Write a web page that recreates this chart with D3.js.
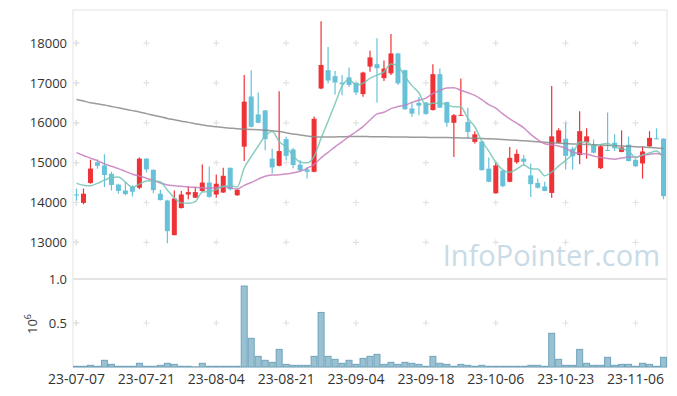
<!DOCTYPE html>
<html>
<head>
<meta charset="utf-8">
<script src="https://cdn.jsdelivr.net/npm/d3@7"></script>
<style>
  body { margin: 0; background: #fff; }
  svg text { font-family: "Open Sans", sans-serif; }
</style>
</head>
<body>
<div id="chart"></div>
<script>
// trading days (yy-mm-dd)
const dates = [
  "23-07-07","23-07-10","23-07-11","23-07-12","23-07-13","23-07-14","23-07-17","23-07-18","23-07-19","23-07-20",
  "23-07-21","23-07-24","23-07-25","23-07-26","23-07-27","23-07-28","23-07-31","23-08-01","23-08-02","23-08-03",
  "23-08-04","23-08-07","23-08-08","23-08-09","23-08-10","23-08-11","23-08-14","23-08-16","23-08-17","23-08-18",
  "23-08-21","23-08-22","23-08-23","23-08-24","23-08-25","23-08-28","23-08-29","23-08-30","23-08-31","23-09-01",
  "23-09-04","23-09-05","23-09-06","23-09-07","23-09-08","23-09-11","23-09-12","23-09-13","23-09-14","23-09-15",
  "23-09-18","23-09-19","23-09-20","23-09-21","23-09-22","23-09-25","23-09-26","23-09-27","23-10-04","23-10-05",
  "23-10-06","23-10-10","23-10-11","23-10-12","23-10-13","23-10-16","23-10-17","23-10-18","23-10-19","23-10-20",
  "23-10-23","23-10-24","23-10-25","23-10-26","23-10-27","23-10-30","23-10-31","23-11-01","23-11-02","23-11-03",
  "23-11-06","23-11-07","23-11-08","23-11-09","23-11-10"
];

const opens = [
  14200,13990,14490,15010,14930,14720,14450,14300,14400,14370,
  15100,14820,14220,14050,13180,13860,14200,14120,14290,14500,
  14200,14250,14870,14180,15400,16660,16210,16310,15100,14920,
  15590,15330,14950,14830,14770,16860,17320,17170,17010,17140,
  17000,16720,17410,17470,17120,17240,17740,17320,16360,16500,
  16510,16320,17220,16520,16000,16190,16020,15520,15530,14850,
  14230,14800,14520,15010,15100,14680,14490,14400,14240,15500,
  15600,15350,15190,15520,15460,14860,15320,15500,15270,15450,
  15070,14980,15410,15610,15600
];
const highs = [
  14350,14350,15070,15080,15210,14770,14470,14510,14430,15130,
  15110,14830,14320,14070,14300,14290,14410,14390,14950,14900,
  14700,14870,14880,14330,17200,17320,16760,16320,15350,16790,
  15650,15370,15060,14890,16160,18550,17900,17300,17200,17390,
  17010,17280,17810,18120,17560,18230,17760,17330,16510,16650,
  16520,17470,17360,16530,16220,17110,16380,15790,15540,15130,
  14990,14820,15390,15330,15190,14980,14600,14520,16920,15860,
  16000,15400,16290,15860,15580,15440,16260,15710,15810,15650,
  15100,15410,15790,15860,15610
];
const lows = [
  14050,13955,14470,14850,14390,14300,14220,14180,14150,14330,
  14750,14230,14050,12980,13180,13850,14080,14110,14260,14120,
  14120,14240,14300,14170,15040,15890,15990,15310,14730,14910,
  15060,14860,14770,14600,14760,16840,16990,16710,16690,16900,
  16700,16650,17280,16510,17050,17200,16950,16330,16150,16190,
  16200,16310,16370,15900,15140,16180,15610,15480,14800,14510,
  14220,14380,14510,14970,14940,14140,14350,14280,14120,15490,
  14830,14830,14960,15100,15230,14840,15290,15290,15260,15030,
  14890,14600,15390,15590,14080
];
const closes = [
  14180,14220,14850,14920,14690,14440,14290,14210,14270,15100,
  14830,14310,14060,13280,14100,14200,14260,14260,14500,14140,
  14470,14670,14330,14320,16530,15900,16000,15590,14880,15290,
  15170,14940,14810,14770,16100,17450,17060,17010,16970,16950,
  16760,17260,17640,17370,17360,17740,16990,16340,16230,16430,
  16220,17220,16380,16000,16190,16200,15770,15710,14810,14520,
  14930,14410,15120,15220,15020,14460,14370,14290,15660,15810,
  15170,15160,15790,15660,15250,15410,15300,15360,15380,15040,
  14910,15280,15620,15600,14160
];
const volumes = [
  8000,8000,19000,8000,76000,30000,8000,8000,8000,42000,
  8000,8000,19000,42000,30000,8000,8000,2000,42000,8000,
  8000,8000,8000,8000,920000,326000,121000,76000,53000,200000,
  30000,19000,19000,19000,121000,620000,121000,87000,42000,76000,
  30000,98000,121000,144000,30000,53000,30000,53000,42000,30000,
  8000,121000,42000,30000,8000,30000,19000,8000,19000,8000,
  8000,8000,8000,8000,8000,19000,19000,8000,383000,87000,
  19000,19000,200000,42000,19000,19000,110000,19000,30000,30000,
  8000,42000,30000,8000,110000
];

// moving averages as drawn on the chart
const ma5 = [
  14480,14435,14420,14480,14560,14624,14638,14510,14380,14462,
  14540,14544,14514,14316,14116,13990,13980,14020,14264,14272,
  14326,14408,14422,14386,14864,15150,15416,15668,15780,15532,
  15386,15174,15018,14996,15158,15614,16038,16478,16918,17088,
  16950,16990,17116,17196,17278,17474,17420,17160,16932,16746,
  16442,16488,16496,16450,16402,16398,16108,15900,15540,15290,
  15010,14820,14758,14840,14940,14846,14838,14672,14760,14918,
  15060,15218,15518,15518,15406,15454,15482,15396,15340,15298,
  15120,15194,15246,15290,15114
];
const ma20 = [
  15250,15180,15110,15050,14970,14910,14850,14780,14710,14660,
  14610,14550,14490,14440,14420,14405,14390,14380,14370,14356,
  14370,14393,14367,14337,14429,14502,14587,14656,14687,14696,
  14713,14745,14782,14857,14957,15119,15259,15397,15520,15661,
  15775,15905,16070,16223,16264,16356,16406,16443,16511,16568,
  16620,16734,16813,16874,16879,16816,16752,16687,16579,16457,
  16366,16223,16097,15990,15873,15709,15578,15475,15447,15416,
  15363,15260,15231,15214,15167,15127,15104,15086,15115,15141,
  15140,15183,15208,15227,15184
];
const ma120 = [
  16585,16545,16505,16475,16445,16410,16375,16340,16305,16270,
  16230,16190,16150,16110,16075,16040,16010,15975,15945,15920,
  15900,15880,15865,15850,15840,15832,15825,15815,15800,15780,
  15750,15720,15695,15670,15650,15640,15640,15645,15650,15655,
  15655,15655,15652,15650,15648,15645,15642,15640,15638,15636,
  15634,15632,15630,15628,15625,15620,15615,15610,15605,15598,
  15590,15580,15570,15560,15548,15535,15522,15510,15498,15488,
  15478,15470,15462,15455,15448,15440,15432,15424,15416,15408,
  15400,15390,15380,15370,15355
];

const priceTicks = [13000, 14000, 15000, 16000, 17000, 18000];
const volTicks = [500000, 1000000];
const volTickLabels = ["0.5", "1.0"];
const dateTicks = [0, 10, 20, 30, 40, 50, 60, 70, 80];

class CandleChart {
    constructor() {
        this.width = 677;
        this.height = 396;
        this.left = 73;
        this.right = 667;
        this.top = 10;
        this.priceBottom = 277;
        this.volTop = 279;
        this.volBottom = 367;

        this.rows = dates.map((d, i) => ({
            i: i, date: d, open: opens[i], high: highs[i], low: lows[i],
            close: closes[i], volume: volumes[i]
        }));

        this.scaleX = d3.scaleBand()
            .domain(d3.range(dates.length))
            .range([this.left, this.right])
            .padding(0);
        this.scaleY = d3.scaleLinear()
            .domain([12130, 18830])
            .range([this.priceBottom, this.top]);
        this.scaleV = d3.scaleLinear()
            .domain([0, 1000000])
            .range([this.volBottom, this.volTop]);
    }

    cx(i) {
        return this.scaleX(i) + this.scaleX.bandwidth() / 2;
    }

    draw() {
        this.svg = d3.select("#chart").append("svg")
            .attr("width", this.width).attr("height", this.height);

        this.drawFrame();
        this.drawWatermark();
        this.drawVolume();
        this.drawCandles();
        this.drawLines();
        this.drawAxes();
    }

    drawFrame() {
        let svg = this.svg;
        svg.append("rect")
            .attr("x", this.left).attr("y", this.top)
            .attr("width", this.right - this.left)
            .attr("height", this.volBottom - this.top)
            .attr("fill", "#fff")
            .attr("stroke", "#e4e4e4");

        // little crosses at grid intersections
        let marks = [];
        dateTicks.forEach(t => {
            priceTicks.forEach(p => marks.push([this.cx(t), this.scaleY(p)]));
            marks.push([this.cx(t), this.scaleV(500000)]);
        });
        priceTicks.forEach(p => marks.push([this.left + 3, this.scaleY(p)]));
        marks.push([this.left + 3, this.scaleV(500000)]);

        svg.append("g").selectAll("path").data(marks).join("path")
            .attr("d", d => `M${d[0] - 3},${d[1]}H${d[0] + 3}M${d[0]},${d[1] - 3}V${d[1] + 3}`)
            .attr("stroke", "#e2e2e2")
            .attr("stroke-width", 1.2);

        svg.append("line")
            .attr("x1", this.left).attr("x2", this.right)
            .attr("y1", this.scaleV(1000000)).attr("y2", this.scaleV(1000000))
            .attr("stroke", "#e4e4e4").attr("stroke-width", 2);
    }

    drawWatermark() {
        this.svg.append("text")
            .attr("x", 660).attr("y", 266)
            .attr("text-anchor", "end")
            .attr("font-size", 29)
            .attr("fill", "#c3d8e4")
            .attr("opacity", 0.9)
            .text("InfoPointer.com");
    }

    drawVolume() {
        let bw = this.scaleX.bandwidth();
        this.svg.append("g").selectAll("rect").data(this.rows).join("rect")
            .attr("x", d => this.scaleX(d.i) + 0.5)
            .attr("width", bw - 1)
            .attr("y", d => this.scaleV(d.volume))
            .attr("height", d => this.volBottom - this.scaleV(d.volume))
            .attr("fill", "#9ac1d2")
            .attr("stroke", "#70a3bb")
            .attr("stroke-width", 1);
    }

    drawCandles() {
        let bodyW = 5;
        let g = this.svg.append("g");
        let color = d => d.close >= d.open ? "#ee3236" : "#67c2d9";

        g.selectAll("line").data(this.rows).join("line")
            .attr("x1", d => this.cx(d.i)).attr("x2", d => this.cx(d.i))
            .attr("y1", d => this.scaleY(d.high))
            .attr("y2", d => this.scaleY(d.low))
            .attr("stroke", color)
            .attr("stroke-width", 1.2);

        g.selectAll("rect").data(this.rows).join("rect")
            .attr("x", d => this.cx(d.i) - bodyW / 2)
            .attr("width", bodyW)
            .attr("y", d => this.scaleY(Math.max(d.open, d.close)))
            .attr("height", d => Math.max(1, Math.abs(this.scaleY(d.open) - this.scaleY(d.close))))
            .attr("fill", color);
    }

    drawLines() {
        let series = [
            {values: ma120, color: "#8a8a8a"},
            {values: ma20, color: "#c67cbd"},
            {values: ma5, color: "#74c4b6"}
        ];
        let line = d3.line()
            .x((d, i) => this.cx(i))
            .y(d => this.scaleY(d))
            .curve(d3.curveMonotoneX);

        this.svg.append("g").selectAll("path").data(series).join("path")
            .attr("d", d => line(d.values))
            .attr("fill", "none")
            .attr("stroke", d => d.color)
            .attr("stroke-width", 1.5)
            .attr("opacity", 0.85);
    }

    drawAxes() {
        let svg = this.svg;

        let yAxis = svg.append("g")
            .attr("transform", `translate(${this.left},0)`)
            .call(d3.axisLeft(this.scaleY).tickValues(priceTicks)
                .tickFormat(d3.format("d")).tickSize(0).tickPadding(6));
        let vAxis = svg.append("g")
            .attr("transform", `translate(${this.left},0)`)
            .call(d3.axisLeft(this.scaleV).tickValues(volTicks)
                .tickFormat((d, i) => volTickLabels[i]).tickSize(0).tickPadding(6));
        let xAxis = svg.append("g")
            .attr("transform", `translate(0,${this.volBottom})`)
            .call(d3.axisBottom(this.scaleX).tickValues(dateTicks)
                .tickFormat(i => dates[i]).tickSize(0).tickPadding(7));

        [yAxis, vAxis, xAxis].forEach(a => {
            a.select(".domain").remove();
            a.selectAll("text")
                .attr("font-family", "'Open Sans', sans-serif")
                .attr("font-size", 13)
                .attr("fill", "#333");
        });
        xAxis.selectAll("text").attr("font-size", 14);

        let unit = svg.append("text")
            .attr("transform", "translate(37,324) rotate(-90)")
            .attr("text-anchor", "middle")
            .attr("font-size", 13)
            .attr("fill", "#333");
        unit.append("tspan").text("10");
        unit.append("tspan").attr("dy", -6).attr("font-size", 9).text("6");
    }
}

let chart = new CandleChart();
chart.draw();
</script>
</body>
</html>
